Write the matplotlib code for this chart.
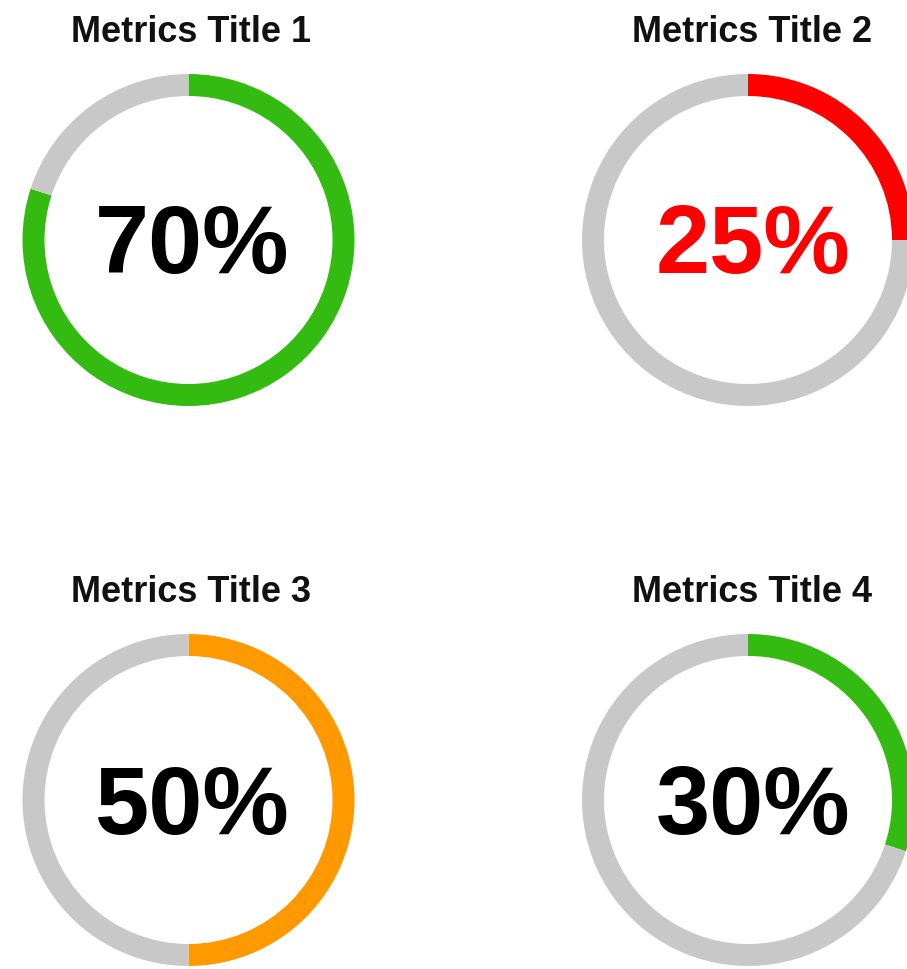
import matplotlib
matplotlib.use("Agg")
import matplotlib.pyplot as plt

# gauge data
titles = ["Metrics Title 1", "Metrics Title 2", "Metrics Title 3", "Metrics Title 4"]
labels = ["70%", "25%", "50%", "30%"]
# filled share of each ring as drawn in the picture (the first ring is drawn fuller than its label)
arc_values = [80, 25, 50, 30]
colors = ["#33BB11", "#FF0000", "#FF9900", "#33BB11"]
text_colors = ["#000000", "#FF0000", "#000000", "#000000"]
track_color = "#C8C8C8"

W, H = 907, 970
R = 166          # outer radius in px
RING = 22 / 166  # ring width as fraction of radius

# layout (pixels from the top-left corner)
centers = [(188.5, 241), (748, 241), (188.5, 801), (748, 801)]
title_pos = [(191, 42), (752, 42), (191, 602), (752, 602)]
value_pos = [(192, 273), (753, 273), (192, 834), (753, 834)]

plt.rcParams['font.family'] = ['Liberation Sans', 'DejaVu Sans']

fig = plt.figure(figsize=(W / 100, H / 100), dpi=100)
fig.patch.set_facecolor("white")

for i in range(4):
    cx, cy = centers[i]
    ax = fig.add_axes([(cx - R) / W, 1 - (cy + R) / H, 2 * R / W, 2 * R / H])
    ax.pie([arc_values[i], 100 - arc_values[i]], colors=[colors[i], track_color],
           startangle=90, counterclock=False, radius=1,
           wedgeprops=dict(width=RING, linewidth=0))
    ax.set_xlim(-1, 1)
    ax.set_ylim(-1, 1)
    ax.set_aspect("equal")
    ax.axis("off")

    tx, ty = title_pos[i]
    fig.text(tx / W, 1 - ty / H, titles[i], ha="center", va="baseline",
             fontsize=26, fontweight="bold", color="#111111")
    vx, vy = value_pos[i]
    fig.text(vx / W, 1 - vy / H, labels[i], ha="center", va="baseline",
             fontsize=70, fontweight="bold", color=text_colors[i])

fig.savefig("out.png", dpi=100)
